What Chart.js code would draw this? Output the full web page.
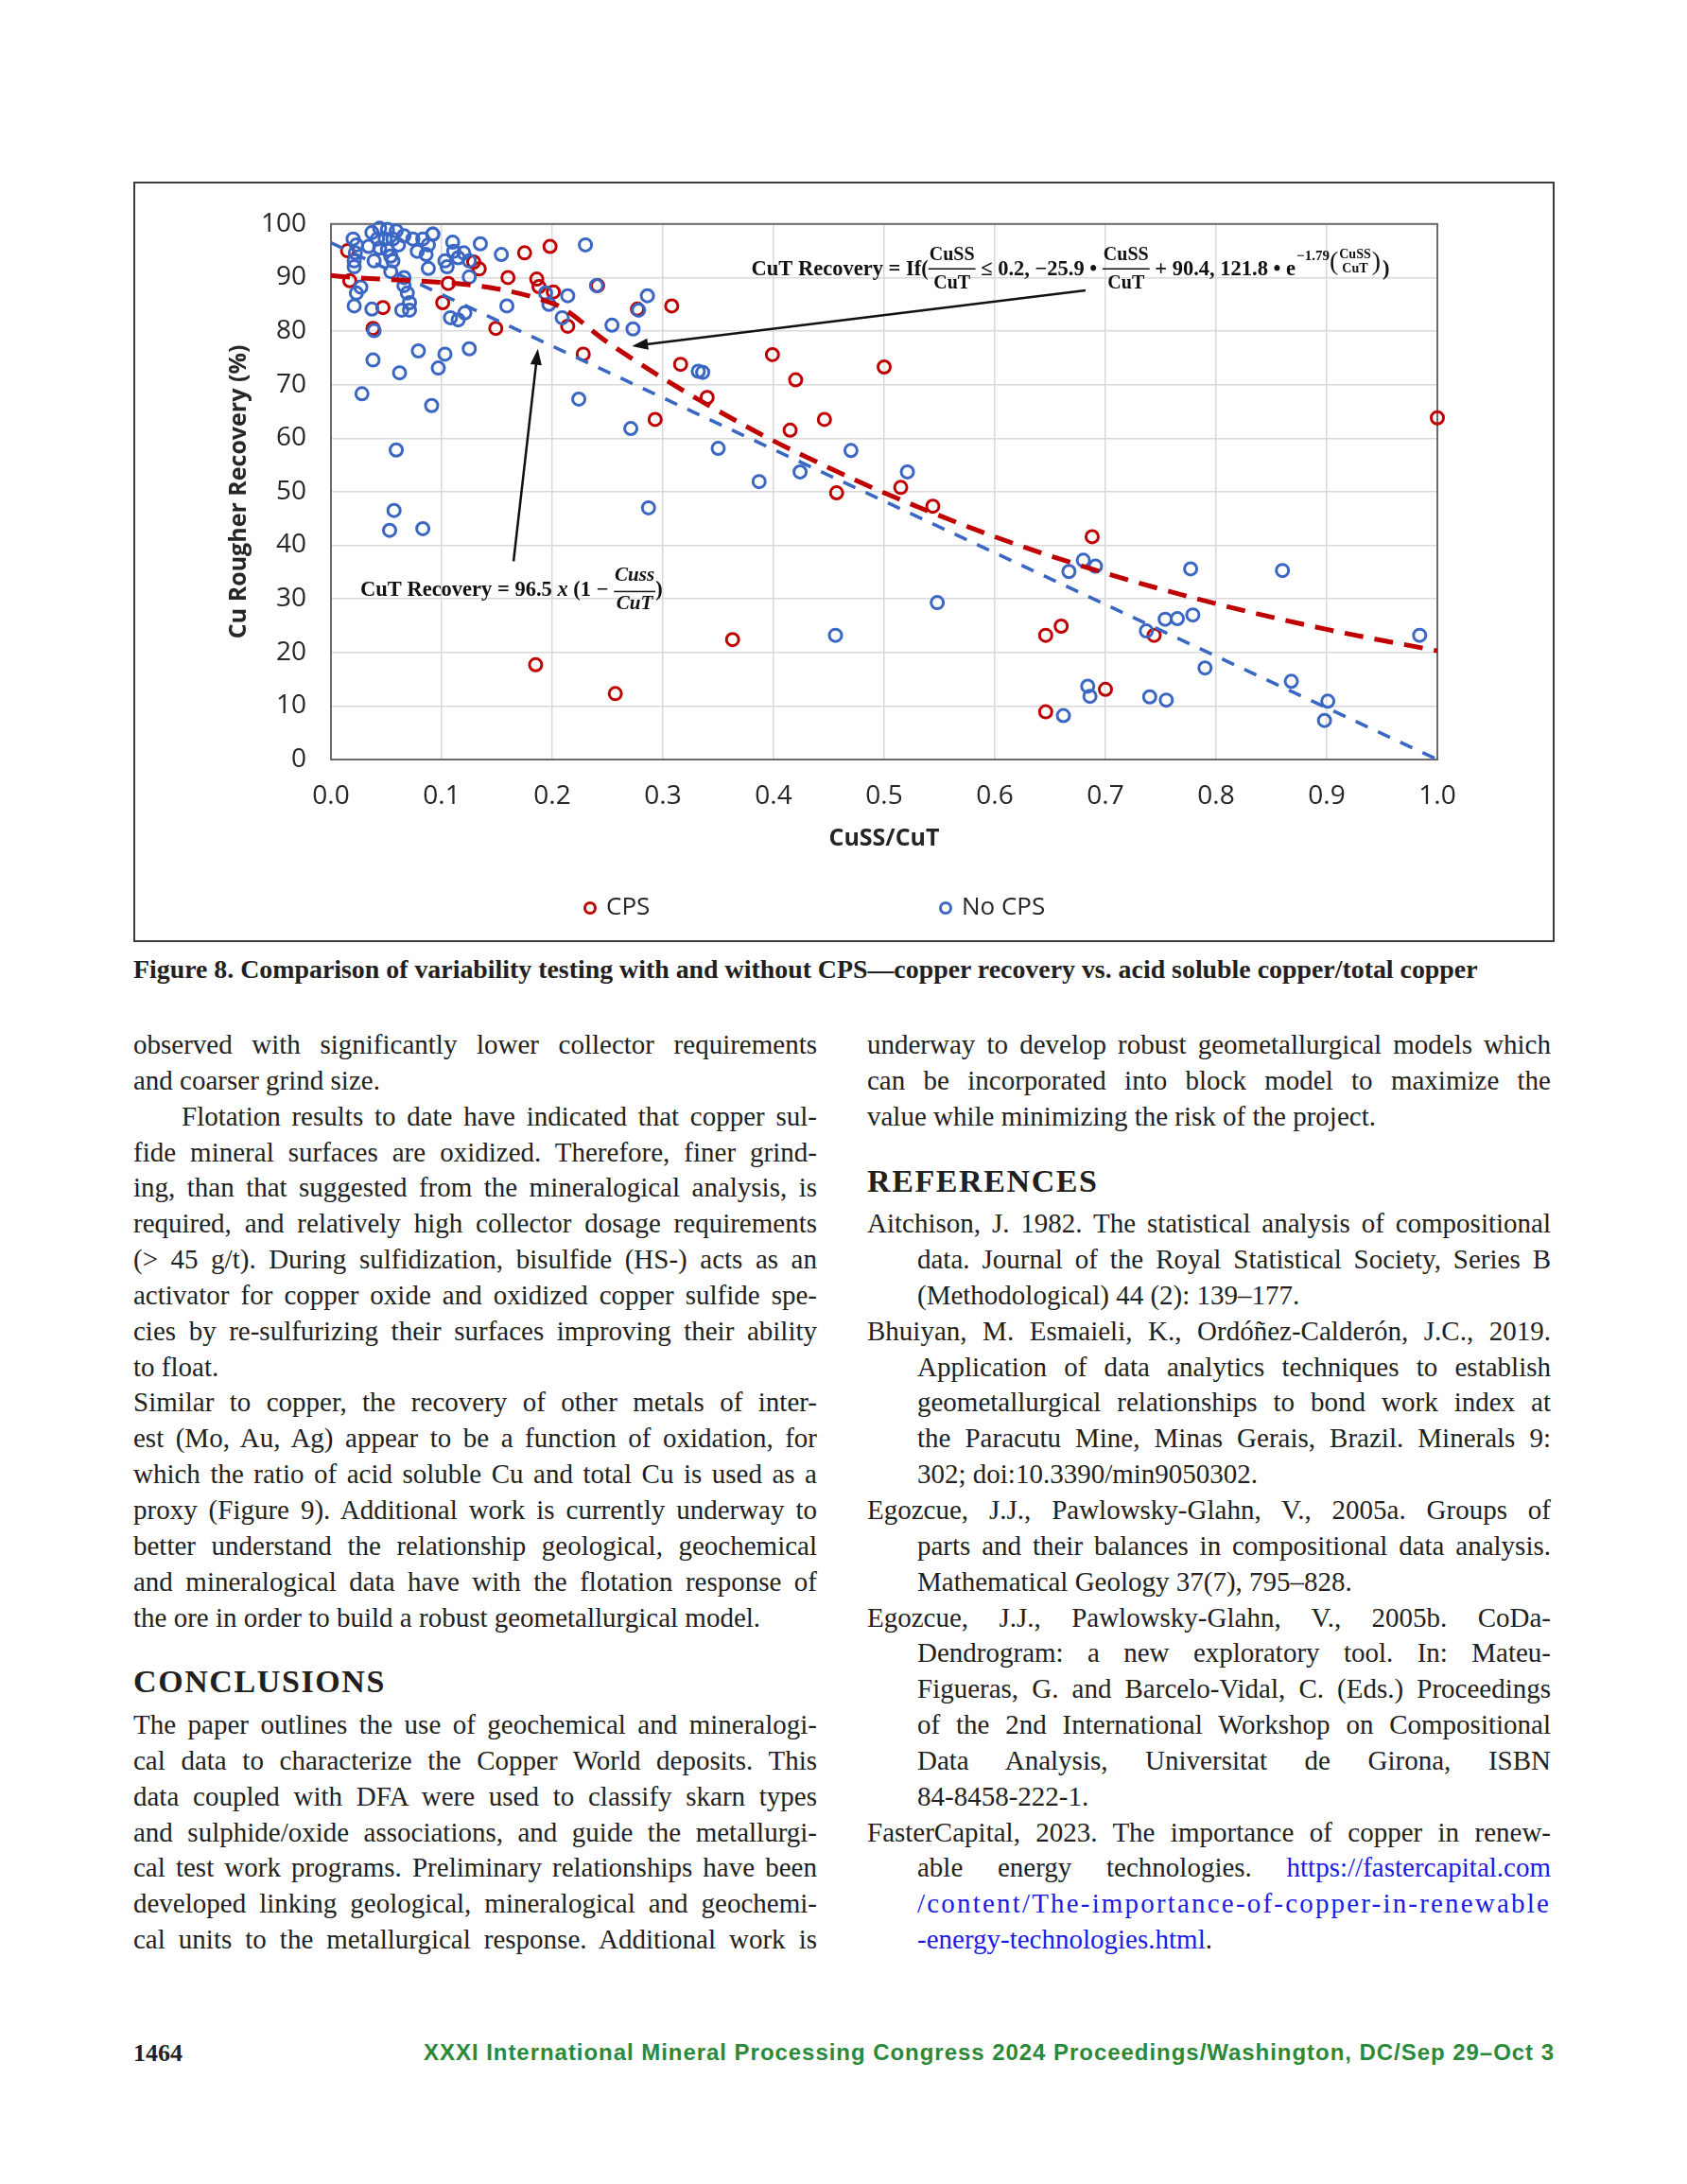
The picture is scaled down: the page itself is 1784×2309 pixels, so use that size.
<!DOCTYPE html>
<html>
<head>
<meta charset="utf-8">
<script src="https://cdn.jsdelivr.net/npm/chart.js@4.4.1/dist/chart.umd.min.js"></script>
<style>
  body { margin: 0; background: #fff; }
  #page { position: relative; width: 1784px; height: 2309px; background: #fff; color: #231f20;
          font-family: "Liberation Serif", serif; overflow: hidden; }
  #box { position: absolute; left: 141px; top: 192px; width: 1503px; height: 804px;
         border: 2px solid #3c3c3c; box-sizing: border-box; }
  #caption { position: absolute; left: 141px; top: 1009px; font-weight: bold; font-size: 25px;
             line-height: 32px; white-space: nowrap; }
  .col { position: absolute; top: 1086px; width: 723px; font-size: 29px; line-height: 37.85px; }
  .col > div { white-space: nowrap; height: 37.85px; }
  .ind { padding-left: 51px; }
  .hang { padding-left: 53px; }
  .head { height: 75.7px !important; line-height: 75.7px; font-weight: bold; font-size: 34px;
          letter-spacing: 1.6px; position: relative; top: 11px; }
  .link { color: #1b1be6; }
  #pnum { position: absolute; left: 141px; top: 2155px; font-weight: bold; font-size: 26px; line-height: 31px; }
  #conf { position: absolute; left: 448px; top: 2154px; font-family: "Liberation Sans", Arial, sans-serif;
          font-weight: bold; font-size: 24px; line-height: 31px; color: #2a8a3a; white-space: nowrap; }
</style>
</head>
<body>
<div id="page">
  <div id="box"><canvas id="chart"></canvas></div>

  <div id="caption" class="fit-size" data-w="1422"><span>Figure 8. Comparison of variability testing with and without CPS—copper recovery vs. acid soluble copper/total copper</span></div>

  <div class="col" style="left:141px">
    <div class="j"><span>observed with significantly lower collector requirements</span></div>
    <div><span>and coarser grind size.</span></div>
    <div class="j ind"><span>Flotation results to date have indicated that copper sul-</span></div>
    <div class="j"><span>fide mineral surfaces are oxidized. Therefore, finer grind-</span></div>
    <div class="j"><span>ing, than that suggested from the mineralogical analysis, is</span></div>
    <div class="j"><span>required, and relatively high collector dosage requirements</span></div>
    <div class="j"><span>(&gt; 45 g/t). During sulfidization, bisulfide (HS-) acts as an</span></div>
    <div class="j"><span>activator for copper oxide and oxidized copper sulfide spe-</span></div>
    <div class="j"><span>cies by re-sulfurizing their surfaces improving their ability</span></div>
    <div><span>to float.</span></div>
    <div class="j"><span>Similar to copper, the recovery of other metals of inter-</span></div>
    <div class="j"><span>est (Mo, Au, Ag) appear to be a function of oxidation, for</span></div>
    <div class="j"><span>which the ratio of acid soluble Cu and total Cu is used as a</span></div>
    <div class="j"><span>proxy (Figure 9). Additional work is currently underway to</span></div>
    <div class="j"><span>better understand the relationship geological, geochemical</span></div>
    <div class="j"><span>and mineralogical data have with the flotation response of</span></div>
    <div><span>the ore in order to build a robust geometallurgical model.</span></div>
    <div class="head">CONCLUSIONS</div>
    <div class="j"><span>The paper outlines the use of geochemical and mineralogi-</span></div>
    <div class="j"><span>cal data to characterize the Copper World deposits. This</span></div>
    <div class="j"><span>data coupled with DFA were used to classify skarn types</span></div>
    <div class="j"><span>and sulphide/oxide associations, and guide the metallurgi-</span></div>
    <div class="j"><span>cal test work programs. Preliminary relationships have been</span></div>
    <div class="j"><span>developed linking geological, mineralogical and geochemi-</span></div>
    <div class="j"><span>cal units to the metallurgical response. Additional work is</span></div>
  </div>

  <div class="col" style="left:917px">
    <div class="j"><span>underway to develop robust geometallurgical models which</span></div>
    <div class="j"><span>can be incorporated into block model to maximize the</span></div>
    <div><span>value while minimizing the risk of the project.</span></div>
    <div class="head">REFERENCES</div>
    <div class="j"><span>Aitchison, J. 1982. The statistical analysis of compositional</span></div>
    <div class="j hang"><span>data. Journal of the Royal Statistical Society, Series B</span></div>
    <div class="hang"><span>(Methodological) 44 (2): 139–177.</span></div>
    <div class="j"><span>Bhuiyan, M. Esmaieli, K., Ordóñez-Calderón, J.C., 2019.</span></div>
    <div class="j hang"><span>Application of data analytics techniques to establish</span></div>
    <div class="j hang"><span>geometallurgical relationships to bond work index at</span></div>
    <div class="j hang"><span>the Paracutu Mine, Minas Gerais, Brazil. Minerals 9:</span></div>
    <div class="hang"><span>302; doi:10.3390/min9050302.</span></div>
    <div class="j"><span>Egozcue, J.J., Pawlowsky-Glahn, V., 2005a. Groups of</span></div>
    <div class="j hang"><span>parts and their balances in compositional data analysis.</span></div>
    <div class="hang"><span>Mathematical Geology 37(7), 795–828.</span></div>
    <div class="j"><span>Egozcue, J.J., Pawlowsky-Glahn, V., 2005b. CoDa-</span></div>
    <div class="j hang"><span>Dendrogram: a new exploratory tool. In: Mateu-</span></div>
    <div class="j hang"><span>Figueras, G. and Barcelo-Vidal, C. (Eds.) Proceedings</span></div>
    <div class="j hang"><span>of the 2nd International Workshop on Compositional</span></div>
    <div class="j hang"><span>Data Analysis, Universitat de Girona, ISBN</span></div>
    <div class="hang"><span>84-8458-222-1.</span></div>
    <div class="j"><span>FasterCapital, 2023. The importance of copper in renew-</span></div>
    <div class="j hang"><span>able energy technologies. <span class="link">https://fastercapital.com</span></span></div>
    <div class="hang fit-ls" data-w="670"><span class="link">/content/The-importance-of-copper-in-renewable</span></div>
    <div class="hang"><span><span class="link">-energy-technologies.html</span>.</span></div>
  </div>

  <div id="pnum">1464</div>
  <div id="conf" class="fit-ls" data-w="1196"><span>XXXI International Mineral Processing Congress 2024 Proceedings/Washington, DC/Sep 29–Oct 3</span></div>
</div>

<script>
// CuSS/CuT vs Cu rougher recovery, with CPS
const cpsX = [0.015, 0.017, 0.038, 0.047, 0.106, 0.101, 0.129, 0.134, 0.149, 0.160, 0.175, 0.198, 0.186, 0.188,
  0.201, 0.214, 0.228, 0.241, 0.277, 0.308, 0.316, 0.293, 0.340, 0.399, 0.420, 0.415, 0.446, 0.457, 0.500,
  0.515, 0.544, 0.185, 0.257, 0.363, 0.688, 0.646, 0.660, 0.744, 0.700, 0.646, 1.000];
const cpsY = [95.0, 89.4, 80.5, 84.4, 88.9, 85.3, 92.9, 91.6, 80.5, 90.0, 94.6, 95.8, 89.7, 88.3,
  87.3, 80.9, 75.7, 88.5, 84.1, 84.7, 73.8, 63.5, 67.6, 75.6, 70.9, 61.5, 63.5, 49.8, 73.3,
  50.8, 47.3, 17.7, 12.3, 22.4, 41.6, 23.2, 24.9, 23.2, 13.1, 8.9, 63.8];

// without CPS
const noCpsX = [0.230, 0.154, 0.135, 0.110, 0.092, 0.214, 0.240, 0.286, 0.278, 0.273, 0.254, 0.209, 0.197, 0.194,
  0.159, 0.125, 0.121, 0.115, 0.108, 0.125, 0.103, 0.097, 0.079, 0.062, 0.038, 0.028, 0.091, 0.224, 0.271,
  0.332, 0.336, 0.350, 0.387, 0.424, 0.470, 0.521, 0.059, 0.057, 0.053, 0.083, 0.287, 0.548, 0.456,
  0.667, 0.680, 0.691, 0.777, 0.860, 0.737, 0.754, 0.765, 0.779, 0.984, 0.790, 0.868, 0.901, 0.898,
  0.684, 0.686, 0.740, 0.755, 0.662,
  0.020, 0.023, 0.022, 0.021, 0.021, 0.027, 0.023, 0.021, 0.037, 0.039, 0.037, 0.044, 0.051, 0.059,
  0.042, 0.049, 0.056, 0.034, 0.044, 0.051, 0.061, 0.066, 0.074, 0.078, 0.086, 0.088, 0.083, 0.092,
  0.039, 0.054, 0.056, 0.054, 0.066, 0.066, 0.069, 0.071, 0.064, 0.071, 0.088, 0.103, 0.111, 0.115,
  0.105, 0.120, 0.125];
const noCpsY = [96.1, 94.3, 96.3, 96.6, 98.1, 86.6, 88.5, 86.6, 83.9, 80.4, 81.1, 82.5, 85.0, 87.1,
  84.7, 90.1, 83.4, 82.1, 82.5, 76.7, 75.7, 73.1, 76.3, 72.2, 74.6, 68.3, 66.1, 67.3, 61.8,
  72.5, 72.3, 58.1, 51.9, 53.7, 57.7, 53.7, 57.8, 46.5, 42.8, 43.1, 47.0, 29.3, 23.2,
  35.1, 37.2, 36.1, 35.6, 35.3, 24.0, 26.2, 26.3, 27.0, 23.2, 17.1, 14.6, 10.9, 7.3,
  13.7, 11.8, 11.7, 11.1, 8.2,
  97.2, 96.1, 94.6, 93.1, 92.0, 88.2, 87.1, 84.7, 84.1, 80.1, 98.4, 99.2, 99.0, 98.7,
  97.2, 97.2, 97.2, 95.8, 95.5, 95.2, 96.1, 97.8, 97.2, 94.9, 94.3, 96.1, 97.2, 98.1,
  93.1, 94.0, 93.1, 91.1, 90.0, 88.5, 87.1, 85.3, 83.9, 83.9, 91.7, 93.1, 94.9, 93.7,
  92.0, 94.6, 93.1];

// trend lines
const cpsFitX = [0, 0.2, 0.25, 0.3, 0.35, 0.4, 0.45, 0.5, 0.6, 0.7, 0.8, 0.9, 1.0];
const cpsFitY = [90.4, 85.2, 77.9, 71.2, 65.1, 59.5, 54.5, 49.8, 41.6, 34.8, 29.1, 24.3, 20.3];
const noCpsFitX = [0, 1.0];
const noCpsFitY = [96.5, 0];

const xTicks = [0, 0.1, 0.2, 0.3, 0.4, 0.5, 0.6, 0.7, 0.8, 0.9, 1.0];
const yTicks = [0, 10, 20, 30, 40, 50, 60, 70, 80, 90, 100];

const RED = '#c00000';
const BLUE = '#3a66c4';

const pts = (xs, ys) => xs.map((v, i) => ({ x: v, y: ys[i] }));

// fit text lines to the widths of the printed page
function fitLines() {
  document.querySelectorAll('.j').forEach(el => {
    const sp = el.firstElementChild;
    sp.style.wordSpacing = '0px';
    const pad = parseFloat(getComputedStyle(el).paddingLeft) || 0;
    const target = el.dataset.w ? +el.dataset.w : el.clientWidth - pad;
    const nat = sp.getBoundingClientRect().width;
    const n = (sp.textContent.match(/ /g) || []).length;
    if (n) sp.style.wordSpacing = ((target - nat) / n) + 'px';
  });
  document.querySelectorAll('.fit-size').forEach(el => {
    el.style.fontSize = '';
    const fs = parseFloat(getComputedStyle(el).fontSize);
    const nat = el.firstElementChild.getBoundingClientRect().width;
    el.style.fontSize = (fs * (+el.dataset.w) / nat) + 'px';
  });
  document.querySelectorAll('.fit-ls').forEach(el => {
    const sp = el.firstElementChild;
    sp.style.letterSpacing = '0px';
    const nat = sp.getBoundingClientRect().width;
    sp.style.letterSpacing = ((+el.dataset.w - nat) / sp.textContent.length) + 'px';
  });
}
fitLines();
if (document.fonts) document.fonts.ready.then(fitLines);

function txt(ctx, x, cy, s, font) {
  ctx.font = font;
  ctx.textAlign = 'left';
  ctx.textBaseline = 'middle';
  ctx.fillText(s, x, cy);
  return x + ctx.measureText(s).width;
}

function frac(ctx, x, cy, num, den, font, dn, dd, db, lw) {
  ctx.font = font;
  const w = Math.max(ctx.measureText(num).width, ctx.measureText(den).width) + 2;
  ctx.textAlign = 'center';
  ctx.textBaseline = 'middle';
  ctx.fillText(num, x + w / 2, cy + dn);
  ctx.fillText(den, x + w / 2, cy + dd);
  if (lw) ctx.fillRect(x, cy + db, w, lw);
  ctx.textAlign = 'left';
  return x + w;
}

function arrow(ctx, x1, y1, x2, y2) {
  const a = Math.atan2(y2 - y1, x2 - x1);
  const L = 17, W = 6;
  ctx.beginPath();
  ctx.moveTo(x1, y1);
  ctx.lineTo(x2 - Math.cos(a) * L * 0.8, y2 - Math.sin(a) * L * 0.8);
  ctx.stroke();
  ctx.beginPath();
  ctx.moveTo(x2, y2);
  ctx.lineTo(x2 - Math.cos(a) * L - Math.sin(a) * W, y2 - Math.sin(a) * L + Math.cos(a) * W);
  ctx.lineTo(x2 - Math.cos(a) * L + Math.sin(a) * W, y2 - Math.sin(a) * L - Math.cos(a) * W);
  ctx.closePath();
  ctx.fill();
}

// frame around plot area, drawn under the points
const frame = {
  id: 'frame',
  beforeDatasetsDraw(chart) {
    const { ctx, chartArea: a } = chart;
    ctx.save();
    ctx.strokeStyle = '#6a6a6a';
    ctx.lineWidth = 2;
    ctx.strokeRect(a.left, a.top, a.right - a.left, a.bottom - a.top);
    ctx.restore();
  }
};

// equations, arrows and legend
const notes = {
  id: 'notes',
  afterDatasetsDraw(chart) {
    const { ctx, scales: { x, y } } = chart;
    ctx.save();
    ctx.fillStyle = '#111';
    ctx.strokeStyle = '#111';
    ctx.lineWidth = 2.5;

    arrow(ctx, x.getPixelForValue(0.682), y.getPixelForValue(87.6), x.getPixelForValue(0.272), y.getPixelForValue(77.2));
    arrow(ctx, x.getPixelForValue(0.165), y.getPixelForValue(37.0), x.getPixelForValue(0.187), y.getPixelForValue(76.7));

    const F = 'bold 22.5px "Liberation Serif"';
    const FF = 'bold 20px "Liberation Serif"';
    let px = x.getPixelForValue(0.380), cy = y.getPixelForValue(91.4);
    px = txt(ctx, px, cy, 'CuT Recovery = If(', F);
    px = frac(ctx, px, cy, 'CuSS', 'CuT', FF, -16, 14, -2, 1.5);
    px = txt(ctx, px, cy, ' ≤ 0.2, −25.9 • ', F);
    px = frac(ctx, px, cy, 'CuSS', 'CuT', FF, -16, 14, -2, 1.5);
    px = txt(ctx, px, cy, ' + 90.4, 121.8 • e', F);
    px = txt(ctx, px + 1, cy - 14, '−1.79', 'bold 15px "Liberation Serif"');
    px = txt(ctx, px, cy - 8, '(', '28px "Liberation Serif"');
    px = frac(ctx, px, cy - 8, 'CuSS', 'CuT', 'bold 14px "Liberation Serif"', -8, 7, 0, 0);
    px = txt(ctx, px, cy - 8, ')', '28px "Liberation Serif"');
    txt(ctx, px + 2, cy, ')', F);

    const G = 'bold 22.5px "Liberation Serif"';
    const GI = 'italic bold 22.5px "Liberation Serif"';
    px = x.getPixelForValue(0.0265); cy = y.getPixelForValue(31.5);
    px = txt(ctx, px, cy, 'CuT Recovery = 96.5 ', G);
    px = txt(ctx, px, cy, 'x', GI);
    px = txt(ctx, px, cy, ' (1 − ', G);
    px = frac(ctx, px, cy, 'Cuss', 'CuT', 'italic bold 21px "Liberation Serif"', -16, 14, 0, 1.5);
    txt(ctx, px, cy, ')', G);

    // legend
    const items = chart.data.datasets.filter(d => d.showInLegend);
    const lx = [481, 857];
    items.forEach((d, i) => {
      ctx.beginPath();
      ctx.arc(lx[i], 766, 5.5, 0, Math.PI * 2);
      ctx.lineWidth = 3;
      ctx.strokeStyle = d.borderColor;
      ctx.stroke();
      ctx.fillStyle = '#262626';
      txt(ctx, lx[i] + 17, 766, d.label, '26px "Open Sans"');
    });
    ctx.restore();
  }
};

Chart.defaults.font.family = '"Open Sans", sans-serif';
Chart.defaults.color = '#262626';

new Chart(document.getElementById('chart'), {
  type: 'scatter',
  data: {
    datasets: [
      { label: 'CPS', data: pts(cpsX, cpsY), borderColor: RED, backgroundColor: 'rgba(0,0,0,0)',
        pointRadius: 6.5, borderWidth: 3, order: 3, showInLegend: true, clip: 12 },
      { label: 'No CPS', data: pts(noCpsX, noCpsY), borderColor: BLUE, backgroundColor: 'rgba(0,0,0,0)',
        pointRadius: 6.5, borderWidth: 3, order: 2, showInLegend: true, clip: 12 },
      { label: 'CPS fit', data: pts(cpsFitX, cpsFitY), showLine: true, borderColor: RED, borderWidth: 5,
        borderDash: [20, 12], pointRadius: 0, cubicInterpolationMode: 'monotone', order: 0 },
      { label: 'No CPS fit', data: pts(noCpsFitX, noCpsFitY), showLine: true, borderColor: BLUE, borderWidth: 3.5,
        borderDash: [14, 12], pointRadius: 0, order: 1 }
    ]
  },
  options: {
    responsive: true,
    maintainAspectRatio: false,
    animation: false,
    layout: { padding: { left: 0, top: 35, right: 122, bottom: 0 } },
    plugins: { legend: { display: false }, tooltip: { enabled: false } },
    scales: {
      x: {
        type: 'linear', min: 0, max: 1,
        afterBuildTicks: s => { s.ticks = xTicks.map(v => ({ value: v })); },
        afterFit: s => { s.height = 191; },
        ticks: { font: { size: 28 }, padding: 22, callback: v => v.toFixed(1), color: '#262626' },
        grid: { color: '#d9d9d9', lineWidth: 1.5, drawTicks: false },
        border: { display: false },
        title: { display: true, text: 'CuSS/CuT', font: { size: 25, weight: 'bold' }, padding: { top: 0, bottom: 92 } }
      },
      y: {
        min: 0, max: 100,
        afterBuildTicks: s => { s.ticks = yTicks.map(v => ({ value: v })); },
        afterFit: s => { s.width = 207; },
        ticks: { font: { size: 28 }, padding: 26, color: '#262626' },
        grid: { color: '#d9d9d9', lineWidth: 1.5, drawTicks: false },
        border: { display: false },
        title: { display: true, text: 'Cu Rougher Recovery (%)', font: { size: 25, weight: 'bold' }, padding: { top: 95, bottom: 0 } }
      }
    }
  },
  plugins: [frame, notes]
});
</script>
</body>
</html>
